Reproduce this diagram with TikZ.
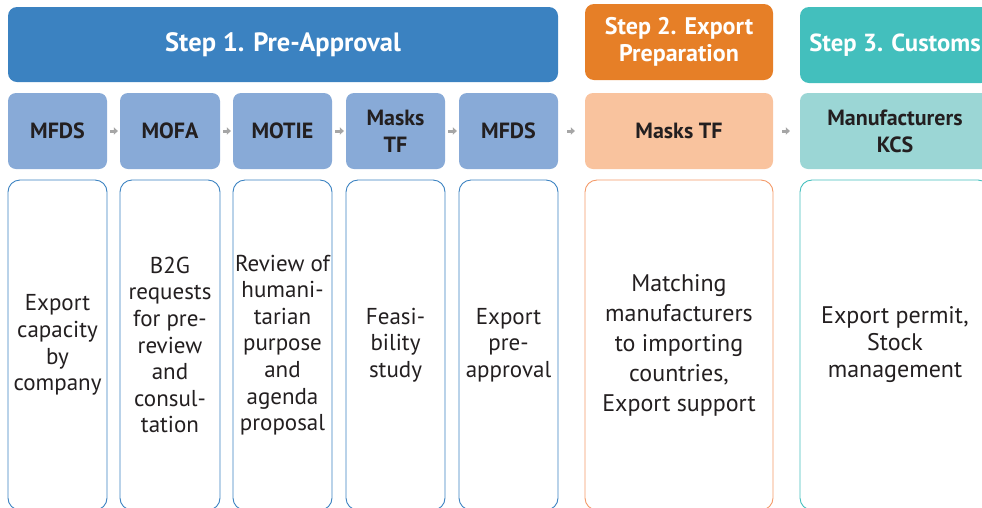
\documentclass[tikz,border=0pt]{standalone}
\usepackage{fontspec}
\setmainfont{PT Sans}
\usetikzlibrary{arrows.meta}
\definecolor{hdrA}{HTML}{3B82C1}
\definecolor{boxA}{HTML}{88AAD7}
\definecolor{hdrB}{HTML}{E67F27}
\definecolor{boxB}{HTML}{F9C39E}
\definecolor{lineB}{HTML}{F49A68}
\definecolor{hdrC}{HTML}{43BFBD}
\definecolor{boxC}{HTML}{9BD6D5}
\definecolor{txt}{HTML}{231F20}
\definecolor{arrgray}{HTML}{A6A6A6}
\tikzset{
  hdr/.style={rounded corners=9pt, inner sep=0pt, text=white, font=\fontsize{24}{27}\selectfont\bfseries, align=center},
  agency/.style={rounded corners=8pt, inner sep=0pt, text=txt, font=\fontsize{22}{27}\selectfont\bfseries, align=center, minimum height=76pt},
  task/.style={rounded corners=12pt, draw, line width=0.9pt, fill=white, inner sep=0pt, text=txt, font=\fontsize{23}{26.6}\selectfont, align=center, minimum height=330pt},
  flow/.style={line width=3pt, arrgray, -{Triangle[length=4pt,width=7.5pt]}},
}
\begin{document}
\begin{tikzpicture}[x=1pt,y=-1pt]
\useasboundingbox (0,0) rectangle (982,507);
\clip (0,0) rectangle (982,507);
% headers
\node[hdr, fill=hdrA, minimum width=550pt, minimum height=75pt, font=\fontsize{26.5}{30}\selectfont\bfseries] (h1) at (283,44.5) {Step 1. Pre-Approval};
\node[hdr, fill=hdrB, minimum width=188pt, minimum height=76pt] (h2) at (679,42) {Step 2. Export\\Preparation};
\node[hdr, fill=hdrC, minimum width=190pt, minimum height=76pt, font=\fontsize{24.7}{27}\selectfont\bfseries] (h3) at (895,45) {Step 3. Customs};
% agencies
\node[agency, fill=boxA, minimum width=99pt] (a1) at (57.5,131) {MFDS};
\node[agency, fill=boxA, minimum width=100pt] (a2) at (170,131) {MOFA};
\node[agency, fill=boxA, minimum width=99pt] (a3) at (282.5,131) {MOTIE};
\node[agency, fill=boxA, minimum width=99pt] (a4) at (395.5,131) {Masks\\TF};
\node[agency, fill=boxA, minimum width=99pt] (a5) at (508.5,131) {MFDS};
\node[agency, fill=boxB, minimum width=188pt] (a6) at (679,131) {Masks TF};
\node[agency, fill=boxC, minimum width=190pt] (a7) at (895,131) {Manufacturers\\KCS};
% arrows
\draw[flow, shorten <=3pt, shorten >=2pt] (a1.east) -- (a2.west);
\draw[flow, shorten <=3pt, shorten >=2pt] (a2.east) -- (a3.west);
\draw[flow, shorten <=3pt, shorten >=2pt] (a3.east) -- (a4.west);
\draw[flow, shorten <=3pt, shorten >=2pt] (a4.east) -- (a5.west);
\draw[flow, shorten <=9pt, shorten >=10pt] (a5.east) -- (a6.west);
\draw[flow, shorten <=9pt, shorten >=10pt] (a6.east) -- (a7.west);
% tasks
\node[task, draw=hdrA, minimum width=99pt] (t1) at (57.5,345) {Export\\capacity\\by\\company};
\node[task, draw=hdrA, minimum width=100pt] (t2) at (170,345) {B2G\\requests\\for pre-\\review\\and\\consul-\\tation};
\node[task, draw=hdrA, minimum width=99pt] (t3) at (282.5,345) {Review of\\humani-\\tarian\\purpose\\and\\agenda\\proposal};
\node[task, draw=hdrA, minimum width=99pt] (t4) at (395.5,345) {Feasi-\\bility\\study};
\node[task, draw=hdrA, minimum width=99pt] (t5) at (508.5,345) {Export\\pre-\\approval};
\node[task, draw=lineB, minimum width=188pt, font=\fontsize{24}{30}\selectfont] (t6) at (679,345) {Matching\\manufacturers\\to importing\\countries,\\Export support};
\node[task, draw=hdrC, minimum width=190pt, font=\fontsize{24}{27}\selectfont] (t7) at (895,345) {Export permit,\\Stock\\management};
\end{tikzpicture}
\end{document}
